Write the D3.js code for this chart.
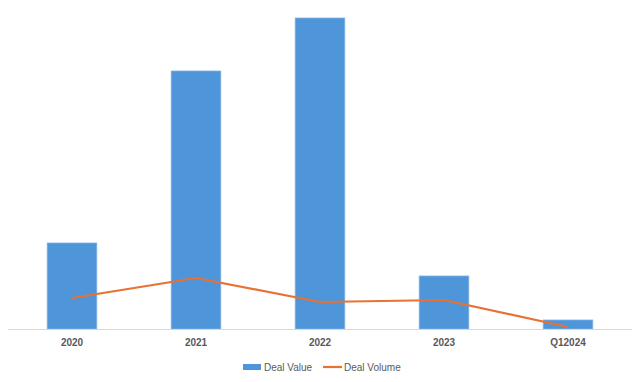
<!DOCTYPE html>
<html>
<head>
<meta charset="utf-8">
<script src="https://cdn.jsdelivr.net/npm/d3@7"></script>
<style>
  html, body { margin: 0; padding: 0; background: #fff; }
  svg { display: block; }
</style>
</head>
<body>
<svg id="chart" width="640" height="382"></svg>
<script>
const categories = ["2020", "2021", "2022", "2023", "Q12024"];
const dealValue = [8.6, 25.8, 31.1, 5.3, 0.9];
const dealVolume = [310, 510, 270, 290, 20];
const legendLabels = ["Deal Value", "Deal Volume"];

const W = 640, H = 382;
const plot = { left: 10, right: 630, top: 18, bottom: 329 };
const barColor = "#4E95D9";
const lineColor = "#E97132";
const textColor = "#595959";

const svg = d3.select("#chart");

const x = d3.scaleBand().domain(categories).range([plot.left, plot.right]).paddingInner(0.6).paddingOuter(0.3);
const y = d3.scaleLinear().domain([0, 31.1]).range([plot.bottom, plot.top]);
const y2 = d3.scaleLinear().domain([0, 3110]).range([plot.bottom, plot.top]);

// bars
svg.append("g").selectAll("rect").data(categories).join("rect")
  .attr("x", d => x(d))
  .attr("y", (d, i) => y(dealValue[i]))
  .attr("width", x.bandwidth())
  .attr("height", (d, i) => y(0) - y(dealValue[i]))
  .attr("fill", barColor)
  .attr("stroke", "#7FB2E5")
  .attr("stroke-width", 0.8);

// axis
const xAxis = d3.axisBottom(x).tickSize(0).tickPadding(9);
const gx = svg.append("g").attr("transform", `translate(0,${plot.bottom + 0.5})`).call(xAxis);
gx.select(".domain").attr("stroke", "#D9D9D9").attr("stroke-width", 1)
  .attr("d", `M8,0H632`);
gx.selectAll("text")
  .attr("font-family", "'Liberation Sans', Arial, sans-serif")
  .attr("font-size", 10)
  .attr("font-weight", "bold")
  .attr("fill", textColor);

// line
const line = d3.line()
  .x((d, i) => x(categories[i]) + x.bandwidth() / 2)
  .y(d => y2(d));
svg.append("path").datum(dealVolume)
  .attr("d", line)
  .attr("fill", "none")
  .attr("stroke", lineColor)
  .attr("stroke-width", 2.2)
  .attr("stroke-linejoin", "round");

// legend
const lg = svg.append("g").attr("font-family", "'Liberation Sans', Arial, sans-serif")
  .attr("font-size", 10).attr("fill", textColor);
lg.append("rect").attr("x", 243).attr("y", 364).attr("width", 18).attr("height", 6).attr("fill", barColor);
lg.append("text").attr("x", 264).attr("y", 367).attr("dy", "0.35em").text(legendLabels[0]);
lg.append("line").attr("x1", 323).attr("x2", 342).attr("y1", 367).attr("y2", 367)
  .attr("stroke", lineColor).attr("stroke-width", 2.2);
lg.append("text").attr("x", 344).attr("y", 367).attr("dy", "0.35em").text(legendLabels[1]);
</script>
</body>
</html>
